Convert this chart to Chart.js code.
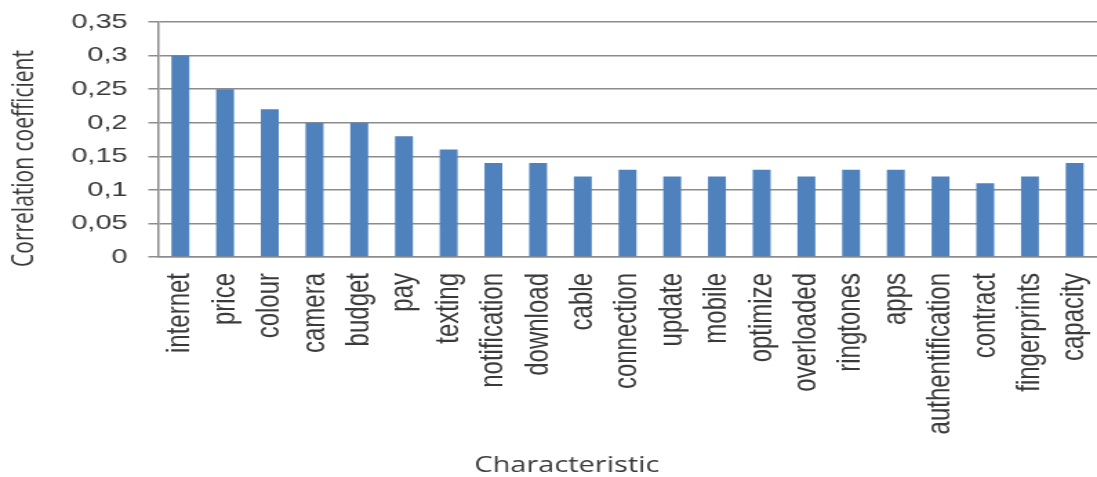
<!DOCTYPE html>
<html>
<head>
<meta charset="utf-8">
<script src="https://cdn.jsdelivr.net/npm/chart.js@4"></script>
<style>
  html, body { margin: 0; padding: 0; background: #fff; overflow: hidden; }
  /* the original picture is stretched sideways, so draw narrow and widen it */
  #wrap { width: 795px; height: 477px; transform: scaleX(1.3799); transform-origin: 0 0; }
</style>
</head>
<body>
<div id="wrap"><canvas id="chart" width="795" height="477"></canvas></div>
<script>
// chart data
const categories = ['internet', 'price', 'colour', 'camera', 'budget', 'pay', 'texting',
    'notification', 'download', 'cable', 'connection', 'update', 'mobile', 'optimize',
    'overloaded', 'ringtones', 'apps', 'authentification', 'contract', 'fingerprints', 'capacity'];
const correlation = [0.30, 0.25, 0.22, 0.20, 0.20, 0.18, 0.16,
    0.14, 0.14, 0.12, 0.13, 0.12, 0.12, 0.13,
    0.12, 0.13, 0.13, 0.12, 0.11, 0.12, 0.14];
const yTicks = [0, 0.05, 0.1, 0.15, 0.2, 0.25, 0.3, 0.35];

const textColor = '#3a3a3a';
const gridColor = '#8c8c8c';

// axis titles in the original are not centred on their axes, nudge them
function shiftTitle(scale, dx, dy) {
    if (scale._titleShifted) return;
    scale._titleShifted = true;
    const base = scale.drawTitle;
    scale.drawTitle = function() {
        const c = this.ctx;
        c.save();
        c.translate(dx, dy);
        base.call(this);
        c.restore();
    };
}

const ctx = document.getElementById('chart').getContext('2d');
new Chart(ctx, {
    type: 'bar',
    data: {
        labels: categories,
        datasets: [{
            label: 'Correlation coefficient',
            data: correlation,
            backgroundColor: '#4f81bd',
            borderWidth: 0,
            barPercentage: 0.8,
            categoryPercentage: 0.5
        }]
    },
    options: {
        responsive: false,
        animation: false,
        layout: { padding: { top: 22, right: 0, bottom: 0, left: 0 } },
        plugins: {
            legend: { display: false },
            tooltip: { enabled: false }
        },
        scales: {
            x: {
                grid: { display: false, drawTicks: false },
                border: { display: true, color: gridColor, width: 1.5 },
                ticks: {
                    color: textColor,
                    font: { family: 'Liberation Sans', size: 24 },
                    minRotation: 90,
                    maxRotation: 90,
                    autoSkip: false,
                    padding: 16
                },
                title: {
                    display: true,
                    text: 'Characteristic',
                    color: textColor,
                    font: { family: 'Open Sans', size: 21 },
                    padding: { top: 0, bottom: 0 }
                },
                afterFit: function(scale) {
                    scale.height = 220;
                    scale.paddingLeft = 0;
                    scale.paddingRight = 0;
                    shiftTitle(scale, -44, 2);
                }
            },
            y: {
                min: 0,
                max: 0.35,
                afterBuildTicks: function(scale) {
                    scale.ticks = yTicks.map(v => ({ value: v }));
                },
                grid: { color: gridColor, lineWidth: 1.5, tickLength: 7 },
                border: { display: true, color: gridColor, width: 1.5 },
                ticks: {
                    color: textColor,
                    font: { family: 'Liberation Sans', size: 21 },
                    padding: 15,
                    callback: v => String(+v.toFixed(2)).replace('.', ',')
                },
                title: {
                    display: true,
                    text: 'Correlation coefficient',
                    color: textColor,
                    font: { family: 'Open Sans', size: 21 },
                    padding: { top: 5, bottom: 0 }
                },
                afterFit: function(scale) {
                    scale.width = 114.5;
                    scale.paddingTop = 0;
                    scale.paddingBottom = 0;
                    shiftTitle(scale, 0, 19);
                }
            }
        }
    }
});
</script>
</body>
</html>
